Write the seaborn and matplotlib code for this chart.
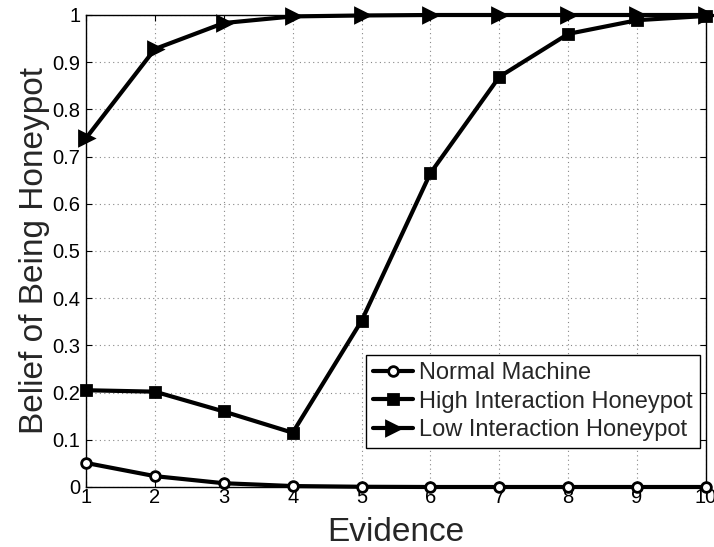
import numpy as np
import pandas as pd
import matplotlib
matplotlib.use("Agg")
import matplotlib.pyplot as plt
import seaborn as sns

evidence = [1, 2, 3, 4, 5, 6, 7, 8, 9, 10]
normal_machine = [0.051, 0.023, 0.008, 0.002, 0.0005, 0.0, 0.0, 0.0, 0.0, 0.0]
high_interaction = [0.205, 0.202, 0.160, 0.115, 0.352, 0.665, 0.869, 0.960, 0.989, 0.998]
low_interaction = [0.739, 0.928, 0.983, 0.997, 0.999, 1.0, 1.0, 1.0, 1.0, 1.0]
series_names = ["Normal Machine", "High Interaction Honeypot", "Low Interaction Honeypot"]
y_ticks = [0, 0.1, 0.2, 0.3, 0.4, 0.5, 0.6, 0.7, 0.8, 0.9, 1]
y_tick_labels = ["0", "0.1", "0.2", "0.3", "0.4", "0.5", "0.6", "0.7", "0.8", "0.9", "1"]

df = pd.DataFrame({
    "Evidence": evidence * 3,
    "Belief": normal_machine + high_interaction + low_interaction,
    "Series": sum([[n] * len(evidence) for n in series_names], []),
})

sns.set_style("white")
plt.rcParams["font.family"] = ["Liberation Sans", "DejaVu Sans"]

fig = plt.figure(figsize=(7.14, 5.47), dpi=100)
ax = fig.add_axes([86 / 714, 1 - 487 / 547, (706 - 86) / 714, (487 - 15) / 547])

markers = {"Normal Machine": "o", "High Interaction Honeypot": "s", "Low Interaction Honeypot": ">"}
msizes = {"Normal Machine": 7, "High Interaction Honeypot": 7, "Low Interaction Honeypot": 10}
for name in series_names:
    sub = df[df["Series"] == name]
    face = "white" if name == "Normal Machine" else "black"
    sns.lineplot(data=sub, x="Evidence", y="Belief", ax=ax, color="black", lw=3,
                 marker=markers[name], markersize=msizes[name], markerfacecolor=face,
                 markeredgecolor="black", markeredgewidth=2, label=name, clip_on=False,
                 zorder=3)

ax.set_xlim(1, 10)
ax.set_ylim(0, 1)
ax.set_xticks(evidence)
ax.set_yticks(y_ticks)
ax.set_yticklabels(y_tick_labels)
ax.tick_params(direction="in", length=4, width=0.8, labelsize=14.5, top=True, right=True,
               bottom=True, left=True, colors="black")
ax.tick_params(axis="x", pad=1)
ax.tick_params(axis="y", pad=4)
ax.grid(True, linestyle=(0, (1, 3)), color="#888888", lw=0.8)
for s in ax.spines.values():
    s.set_visible(True)
    s.set_color("black")
    s.set_linewidth(1.0)

ax.set_xlabel("Evidence", fontsize=24, labelpad=7)
ax.set_ylabel("Belief of Being Honeypot", fontsize=24, labelpad=2)

leg = ax.legend(loc="lower right", bbox_to_anchor=(0.99, 0.082), fontsize=17,
                frameon=True, fancybox=False, edgecolor="black", framealpha=1,
                handlelength=1.7, handletextpad=0.25, borderpad=0.3, labelspacing=0.28,
                borderaxespad=0)
leg.get_frame().set_linewidth(1.0)

fig.savefig("out.png", dpi=100)
